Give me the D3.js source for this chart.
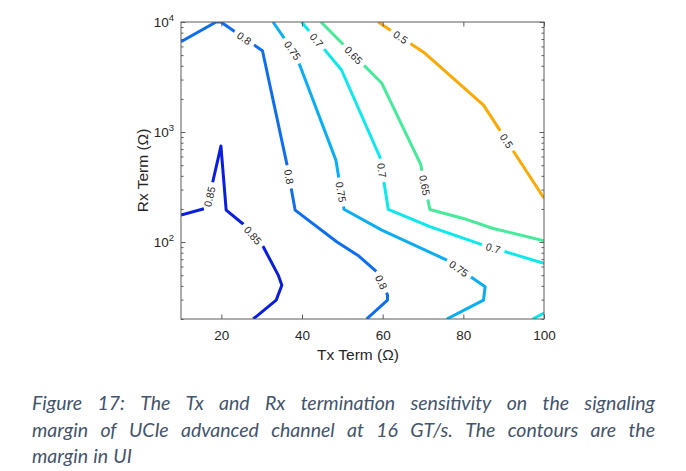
<!DOCTYPE html>
<html>
<head>
<meta charset="utf-8">
<script src="https://cdn.jsdelivr.net/npm/d3@7"></script>
<style>
body { margin: 0; background: #fff; }
svg text { font-family: "Liberation Sans", Arial, sans-serif; }
</style>
</head>
<body>
<svg id="chart" width="686" height="471"></svg>
<script>
// axis ticks
var txTicks = [20, 40, 60, 80, 100];
var rxTicks = [100, 1000, 10000];

// contour vertices (Tx term, Rx term)
var c085Tx = [10, 16.4, 19.9, 21.2, 25.4, 30.4, 34.1, 35.0, 33.6, 27.9];
var c085Rx = [176, 204, 746, 195, 146, 90.6, 50.1, 40.6, 29.7, 20];
var c080Tx = [10, 18.7, 19.9, 30.2, 36.2, 38.3, 48.6, 54.1, 58.5, 61.2, 61.2, 56.0];
var c080Rx = [6625, 10000, 10000, 5485, 522, 195, 100.7, 74.6, 53.7, 33, 29.7, 20];
var c075Tx = [32.8, 38.5, 48.4, 50.4, 59.8, 75.9, 85.4, 85.0, 75.9];
var c075Rx = [10000, 5012, 556, 199, 128.5, 68.6, 39.3, 29.7, 20];
var c070Tx = [39.9, 49.8, 59.3, 61.4, 71.7, 84.9, 100];
var c070Rx = [10000, 3664, 593, 198, 138, 94, 64];
var c070bTx = [97.2, 100];
var c070bRx = [20, 22.7];
var c065Tx = [44.7, 59.8, 69.4, 71.7, 80.0, 87.4, 100];
var c065Rx = [10000, 2773, 512, 198, 164, 133, 103];
var c050Tx = [58.9, 70.5, 85.0, 100];
var c050Rx = [10000, 5190, 1758, 250];

// inline contour labels
var labelLevel = [0.85, 0.85, 0.8, 0.8, 0.8, 0.75, 0.75, 0.75, 0.7, 0.7, 0.7, 0.65, 0.65, 0.5, 0.5];
var labelTx = [17.6, 27.9, 25.4, 36.2, 59.8, 37.8, 49.8, 79.2, 43.2, 60.2, 87.4, 52.9, 70.7, 64.3, 90.3];
var labelRx = [256, 116, 6855, 390, 43.6, 5560, 286, 59.7, 6625, 452, 88.7, 5012, 330, 7110, 817];

var captionLines = [
    "Figure 17: The Tx and Rx termination sensitivity on the signaling",
    "margin of UCIe advanced channel at 16 GT/s. The contours are the",
    "margin in UI"
];

var contours = [
    { level: 0.85, color: "#0a1ee0", tx: c085Tx, rx: c085Rx },
    { level: 0.8, color: "#0f6ef0", tx: c080Tx, rx: c080Rx },
    { level: 0.75, color: "#0aaef2", tx: c075Tx, rx: c075Rx },
    { level: 0.7, color: "#0ce9ec", tx: c070Tx, rx: c070Rx },
    { level: 0.7, color: "#0ce4ee", tx: c070bTx, rx: c070bRx },
    { level: 0.65, color: "#45ea9a", tx: c065Tx, rx: c065Rx },
    { level: 0.5, color: "#f9aa05", tx: c050Tx, rx: c050Rx }
];

var svg = d3.select("#chart");
var plotLeft = 181, plotRight = 544, plotTop = 22, plotBottom = 319;

var x = d3.scaleLinear().domain([10, 100]).range([plotLeft, plotRight]);
var y = d3.scaleLog().domain([20, 10000]).range([plotBottom, plotTop]);

svg.append("clipPath").attr("id", "plotclip")
    .append("rect")
    .attr("x", plotLeft).attr("y", plotTop)
    .attr("width", plotRight - plotLeft).attr("height", plotBottom - plotTop);

var plot = svg.append("g").attr("clip-path", "url(#plotclip)");
var labelLayer = svg.append("g");

var line = d3.line()
    .x(function (d) { return x(d[0]); })
    .y(function (d) { return y(d[1]); });

var paths = contours.map(function (c) {
    var p = plot.append("path")
        .datum(d3.zip(c.tx, c.rx))
        .attr("d", line)
        .attr("fill", "none")
        .attr("stroke", c.color)
        .attr("stroke-width", 3)
        .attr("stroke-linejoin", "round");
    return { c: c, node: p.node(), gaps: [] };
});

// place each label on the nearest point of its contour
labelLevel.forEach(function (lv, i) {
    var px = x(labelTx[i]), py = y(labelRx[i]);
    var best = null;
    paths.forEach(function (p) {
        if (p.c.level !== lv) return;
        var L = p.node.getTotalLength();
        for (var t = 0; t <= L; t += 0.5) {
            var q = p.node.getPointAtLength(t);
            var dd = (q.x - px) * (q.x - px) + (q.y - py) * (q.y - py);
            if (!best || dd < best.dd) best = { dd: dd, t: t, p: p };
        }
    });
    var node = best.p.node, L = node.getTotalLength();
    var a = node.getPointAtLength(Math.max(0, best.t - 4));
    var b = node.getPointAtLength(Math.min(L, best.t + 4));
    var ang = Math.atan2(b.y - a.y, b.x - a.x) * 180 / Math.PI;
    if (ang > 90) ang -= 180;
    if (ang < -90) ang += 180;
    var c = node.getPointAtLength(best.t);
    var txt = labelLayer.append("text")
        .attr("transform", "translate(" + c.x + "," + c.y + ") rotate(" + ang + ")")
        .attr("text-anchor", "middle")
        .attr("dominant-baseline", "central")
        .attr("font-size", 10.5)
        .attr("fill", "#262626")
        .text(String(lv));
    best.p.gaps.push({ t: best.t, w: txt.node().getComputedTextLength() + 9 });
});

// cut gaps into the lines where labels sit
paths.forEach(function (p) {
    if (!p.gaps.length) return;
    var L = p.node.getTotalLength();
    p.gaps.sort(function (a, b) { return a.t - b.t; });
    var dash = [], pos = 0;
    p.gaps.forEach(function (g) {
        var s = Math.max(0, g.t - g.w / 2);
        dash.push(Math.max(0.01, s - pos), g.w);
        pos = s + g.w;
    });
    dash.push(Math.max(0.01, L - pos + 10), 0);
    d3.select(p.node).attr("stroke-dasharray", dash.join(","));
});

// axes
var axisColor = "#5a5a5a";
var tickColor = "#262626";

function styleAxis(g) {
    g.select(".domain").remove();
    g.selectAll(".tick line").attr("stroke", axisColor);
    g.selectAll(".tick text").attr("fill", tickColor).attr("font-size", 13.5)
        .attr("font-family", "Liberation Sans, Arial, sans-serif");
}

svg.append("g")
    .attr("transform", "translate(0," + plotBottom + ")")
    .call(d3.axisBottom(x).tickValues(txTicks).tickSize(-4.5).tickPadding(11))
    .call(styleAxis);

svg.append("g")
    .attr("transform", "translate(0," + plotTop + ")")
    .call(d3.axisTop(x).tickValues(txTicks).tickSize(-4.5).tickFormat(""))
    .call(styleAxis);

var minor = y.ticks().filter(function (v) { return rxTicks.indexOf(v) < 0; });

[[plotLeft, d3.axisLeft], [plotRight, d3.axisRight]].forEach(function (s) {
    svg.append("g")
        .attr("transform", "translate(" + s[0] + ",0)")
        .call(s[1](y).tickValues(rxTicks).tickSize(-4.5).tickFormat(""))
        .call(styleAxis);
    svg.append("g")
        .attr("transform", "translate(" + s[0] + ",0)")
        .call(s[1](y).tickValues(minor).tickSize(-2.5).tickFormat(""))
        .call(styleAxis);
});

// y tick labels as powers of ten
rxTicks.forEach(function (v) {
    var t = svg.append("text")
        .attr("x", plotLeft - 7)
        .attr("y", y(v) + 5)
        .attr("text-anchor", "end")
        .attr("fill", tickColor)
        .attr("font-size", 13.5);
    t.append("tspan").text("10");
    t.append("tspan").attr("dy", -6).attr("font-size", 9.5).text(String(Math.round(Math.log10(v))));
});

svg.append("rect")
    .attr("x", plotLeft).attr("y", plotTop)
    .attr("width", plotRight - plotLeft).attr("height", plotBottom - plotTop)
    .attr("fill", "none")
    .attr("stroke", axisColor)
    .attr("stroke-width", 1);

// axis titles
svg.append("text")
    .attr("x", 358).attr("y", 360)
    .attr("text-anchor", "middle")
    .attr("fill", tickColor)
    .attr("font-size", 15.5)
    .text("Tx Term (\u03a9)");

svg.append("text")
    .attr("transform", "translate(148," + ((plotTop + plotBottom) / 2) + ") rotate(-90)")
    .attr("text-anchor", "middle")
    .attr("fill", tickColor)
    .attr("font-size", 15.5)
    .text("Rx Term (\u03a9)");

// justified caption
var capLeft = 32, capRight = 655, capBase = 410, capStep = 26.6;
captionLines.forEach(function (ln, i) {
    var words = ln.split(" ");
    var t = svg.append("text")
        .attr("y", capBase + i * capStep)
        .attr("fill", "#44546a")
        .attr("font-size", 19.5)
        .attr("font-style", "italic")
        .style("font-family", "Lato, 'Open Sans', sans-serif");
    var spans = words.map(function (w) { return t.append("tspan").attr("x", 0).text(w); });
    var widths = spans.map(function (s) { return s.node().getComputedTextLength(); });
    var gap = 5.2;
    if (i < captionLines.length - 1) {
        gap = (capRight - capLeft - d3.sum(widths)) / (words.length - 1);
    }
    var pos = capLeft;
    spans.forEach(function (s, k) {
        s.attr("x", pos);
        pos += widths[k] + gap;
    });
});
</script>
</body>
</html>
